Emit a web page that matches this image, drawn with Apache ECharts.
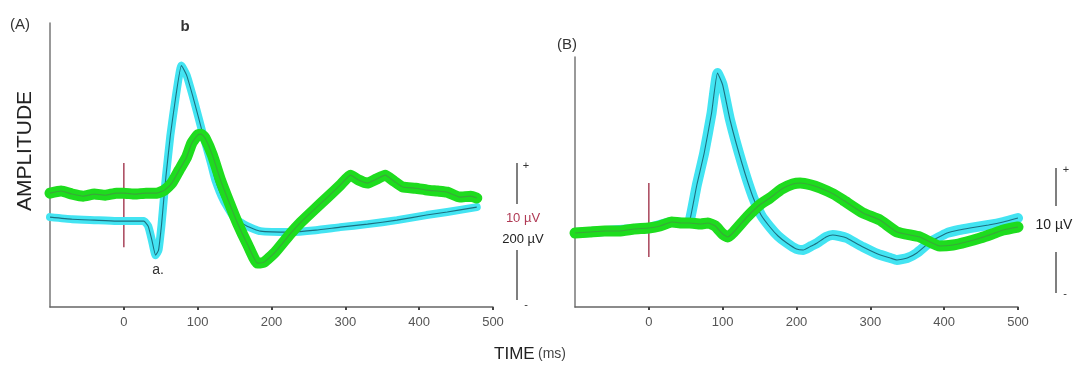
<!DOCTYPE html>
<html>
<head>
<meta charset="utf-8">
<script src="https://cdn.jsdelivr.net/npm/echarts@6/dist/echarts.min.js"></script>
<style>
  html, body { margin: 0; padding: 0; background: #fff; }
  #chart { width: 1085px; height: 367px; }
</style>
</head>
<body>
<div id="chart"></div>
<script>
// Panel A: time (ms) and amplitude (arbitrary units, baseline 0)
const aGreenT = [-100,-85,-70,-55,-40,-25,-10,0,15,30,45,55,65,75,85,92,100,105,110,120,131,143,154,168,181,190,205,226,240,257,276,293,307,318,330,342,354,366,378,395,411,425,438,455,470,478];
const aGreenV = [0,0.15,-0.07,-0.22,-0.07,-0.15,0,0,-0.07,0,0,0.22,0.73,1.68,2.62,3.64,4.23,4.3,4.01,2.77,0.95,-0.73,-2.19,-3.79,-5.1,-5.03,-4.3,-2.93,-2.11,-1.24,-0.29,0.58,1.31,0.95,0.73,1.02,1.31,0.87,0.44,0.36,0.22,0.15,0.07,-0.29,-0.22,-0.36];
const aCyanT = [-100,-70,-40,-10,10,27,33,38,43,47,51,54,57,63,70,78,85,93,101,106,118,124,135,150,167,185,226,260,293,330,370,410,438,478];
const aCyanV = [-1.75,-1.9,-1.97,-2.04,-2.04,-2.04,-2.41,-3.43,-4.52,-4.15,-2.33,-0.51,1.2,4.2,6.9,9.3,8.6,7.14,5.54,4.52,2.19,0.95,-0.51,-1.82,-2.41,-2.77,-2.84,-2.7,-2.48,-2.26,-1.97,-1.6,-1.38,-1.02];
const aStimV = [2.19, -3.94];

// Panel B
const bGreenT = [-100,-80,-60,-40,-20,0,15,31,45,55,70,80,90,100,107,115,133,150,164,180,195,205,220,232,250,263,290,313,336,367,394,412,430,449,465,480,500];
const bGreenV = [-0.4,-0.32,-0.24,-0.24,-0.08,0,0.16,0.48,0.4,0.4,0.32,0.4,0.16,-0.48,-0.72,-0.32,0.88,1.84,2.4,3.12,3.52,3.6,3.44,3.2,2.72,2.24,1.2,0.64,-0.32,-0.72,-1.44,-1.36,-1.12,-0.8,-0.48,-0.16,0.08];
const bCyanT = [-100,-60,-20,0,31,50,55,65,75,85,93,100,110,126,141,152,164,175,187,200,209,220,228,240,249,258,268,280,290,310,327,336,350,363,381,404,420,435,460,480,500];
const bCyanV = [-0.4,-0.24,-0.08,0,0.48,0.4,0.48,3.44,6.0,9.2,12.4,11.44,8.64,5.2,2.48,1.04,0.08,-0.64,-1.2,-1.68,-1.76,-1.44,-1.2,-0.72,-0.56,-0.64,-0.8,-1.2,-1.52,-2.08,-2.4,-2.56,-2.4,-2.0,-1.12,-0.4,-0.16,0,0.24,0.48,0.8];
const bStimV = [3.6, -2.32];

const xTicks = [0, 100, 200, 300, 400, 500];

const zip = (t, v) => t.map((x, i) => [x, v[i]]);

const FONT = "Liberation Sans, Arial, sans-serif";
const CYAN = "#43e4f2";
const CYAN_DARK = "#1c6f80";
const GREEN = "#1edc1e";
const GREEN_DARK = "#3aa83a";
const STIM = "#a8445a";

function xAxis(gridIndex) {
  return {
    type: "value",
    gridIndex,
    min: -100,
    max: 500,
    interval: 100,
    axisLine: { onZero: false, lineStyle: { color: "#666", width: 1.5 } },
    axisTick: { show: true, length: 3, customValues: xTicks, lineStyle: { color: "#444", width: 2 } },
    splitLine: { show: false },
    axisLabel: {
      color: "#555",
      fontFamily: FONT,
      fontSize: 13,
      margin: 9,
      customValues: xTicks,
    },
  };
}

function yAxis(gridIndex, min, max) {
  return {
    type: "value",
    gridIndex,
    min,
    max,
    axisLine: { show: true, onZero: false, lineStyle: { color: "#777", width: 1.5 } },
    axisTick: { show: false },
    axisLabel: { show: false },
    splitLine: { show: false },
  };
}

// each trace = thick light band + thin dark centre line
function trace(name, data, idx, band, core, bandWidth) {
  return [
    {
      name: name + " band",
      type: "line",
      xAxisIndex: idx,
      yAxisIndex: idx,
      data,
      showSymbol: false,
      smooth: 0.15,
      lineStyle: { color: band, width: bandWidth, cap: "round", join: "round" },
      silent: true,
    },
    {
      name: name,
      type: "line",
      xAxisIndex: idx,
      yAxisIndex: idx,
      data,
      showSymbol: false,
      smooth: 0.15,
      lineStyle: { color: core, width: 1.1 },
      silent: true,
    },
  ];
}

function stim(idx, vals) {
  return {
    type: "line",
    xAxisIndex: idx,
    yAxisIndex: idx,
    data: vals.map((v) => [0, v]),
    showSymbol: false,
    lineStyle: { color: STIM, width: 1.5 },
    silent: true,
  };
}

const chart = echarts.init(document.getElementById("chart"));

chart.setOption({
  backgroundColor: "#fff",
  animation: false,
  grid: [
    { left: 50, right: 592, top: 23, bottom: 60 },
    { left: 575, right: 67, top: 57, bottom: 60 },
  ],
  xAxis: [xAxis(0), xAxis(1)],
  yAxis: [yAxis(0, -8.3, 12.4), yAxis(1, -6.32, 13.68)],
  series: [
    stim(0, aStimV),
    ...trace("A cyan", zip(aCyanT, aCyanV), 0, CYAN, CYAN_DARK, 8),
    ...trace("A green", zip(aGreenT, aGreenV), 0, GREEN, GREEN_DARK, 11),
    stim(1, bStimV),
    ...trace("B cyan", zip(bCyanT, bCyanV), 1, CYAN, CYAN_DARK, 10),
    ...trace("B green", zip(bGreenT, bGreenV), 1, GREEN, GREEN_DARK, 11),
  ],
  graphic: [
    { type: "text", x: 10, y: 25, style: { text: "(A)", font: "15px " + FONT, fill: "#333", verticalAlign: "middle" } },
    { type: "text", x: 557, y: 45, style: { text: "(B)", font: "15px " + FONT, fill: "#333", verticalAlign: "middle" } },
    { type: "text", x: 185, y: 27, style: { text: "b", font: "bold 15px " + FONT, fill: "#333", align: "center", verticalAlign: "middle" } },
    { type: "text", x: 158, y: 270, style: { text: "a.", font: "14px " + FONT, fill: "#333", align: "center", verticalAlign: "middle" } },
    { type: "text", x: 25, y: 151, rotation: Math.PI / 2, style: { text: "AMPLITUDE", font: "21px " + FONT, fill: "#222", align: "center", verticalAlign: "middle" } },
    {
      type: "text", x: 530, y: 354,
      style: {
        text: "{a|TIME} {b|(ms)}",
        align: "center", verticalAlign: "middle",
        rich: {
          a: { fontSize: 17, fontFamily: FONT, fill: "#222" },
          b: { fontSize: 14, fontFamily: FONT, fill: "#444" },
        },
      },
    },
    // scale bar A
    { type: "line", shape: { x1: 517, y1: 163, x2: 517, y2: 204 }, style: { stroke: "#555", lineWidth: 1.5 } },
    { type: "line", shape: { x1: 517, y1: 250, x2: 517, y2: 300 }, style: { stroke: "#555", lineWidth: 1.5 } },
    { type: "text", x: 526, y: 166, style: { text: "+", font: "11px " + FONT, fill: "#333", align: "center", verticalAlign: "middle" } },
    { type: "text", x: 526, y: 305, style: { text: "-", font: "11px " + FONT, fill: "#333", align: "center", verticalAlign: "middle" } },
    { type: "text", x: 523, y: 218, style: { text: "10 µV", font: "13px " + FONT, fill: "#b03a55", align: "center", verticalAlign: "middle" } },
    { type: "text", x: 523, y: 239, style: { text: "200 µV", font: "13px " + FONT, fill: "#222", align: "center", verticalAlign: "middle" } },
    // scale bar B
    { type: "line", shape: { x1: 1056, y1: 168, x2: 1056, y2: 206 }, style: { stroke: "#555", lineWidth: 1.5 } },
    { type: "line", shape: { x1: 1056, y1: 252, x2: 1056, y2: 293 }, style: { stroke: "#555", lineWidth: 1.5 } },
    { type: "text", x: 1066, y: 170, style: { text: "+", font: "11px " + FONT, fill: "#333", align: "center", verticalAlign: "middle" } },
    { type: "text", x: 1065, y: 294, style: { text: "-", font: "11px " + FONT, fill: "#333", align: "center", verticalAlign: "middle" } },
    { type: "text", x: 1054, y: 225, style: { text: "10 µV", font: "14px " + FONT, fill: "#222", align: "center", verticalAlign: "middle" } },
  ],
});
</script>
</body>
</html>
